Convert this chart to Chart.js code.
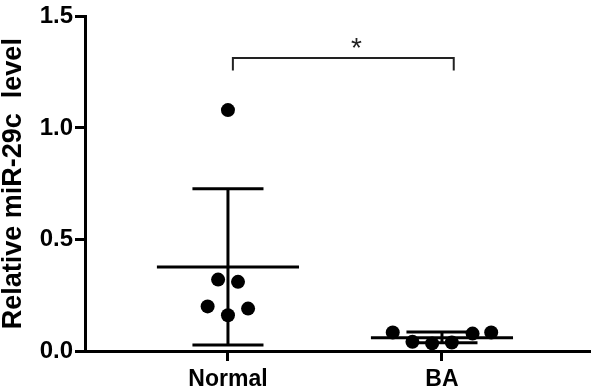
<!DOCTYPE html>
<html>
<head>
<meta charset="utf-8">
<script src="https://cdn.jsdelivr.net/npm/chart.js@4/dist/chart.umd.min.js"></script>
<style>
  html, body { margin: 0; padding: 0; background: #fff; }
  #chart { display: block; }
</style>
</head>
<body>
<canvas id="chart" width="596" height="389"></canvas>
<script>
// values
const categories = ['Normal', 'BA'];
const normalValues = [1.08, 0.32, 0.31, 0.20, 0.19, 0.16];
const normalJitter = [0, -0.046, 0.047, -0.095, 0.094, 0];
const baValues = [0.083, 0.041, 0.034, 0.038, 0.078, 0.083];
const baJitter = [-0.23, -0.138, -0.046, 0.046, 0.143, 0.23];
const meanValues = [0.377, 0.059];
const sdUpper = [0.727, 0.085];
const sdLower = [0.027, 0.037];
const yTicks = [0, 0.5, 1.0, 1.5];

// significance bracket (x in category units, y in data units)
const bracketX = [1.023, 2.055];
const bracketY = [1.258, 1.314];
const starPos = { x: 1.6, y: 1.37 };

const FONT = "'Liberation Sans', Arial, sans-serif";
const meanHalf = 0.332;
const capHalf = 0.166;

function pts(values, jitter, c) {
  return values.map((v, i) => ({ x: c + jitter[i], y: v }));
}

function seg(data, width, color) {
  return {
    type: 'scatter',
    data: data,
    showLine: true,
    borderColor: color || '#000',
    borderWidth: width || 3,
    pointRadius: 0,
    fill: false,
    clip: false
  };
}

const datasets = [
  { data: pts(normalValues, normalJitter, 1), backgroundColor: '#000', borderWidth: 0, pointRadius: 7, clip: false },
  { data: pts(baValues, baJitter, 2), backgroundColor: '#000', borderWidth: 0, pointRadius: 7, clip: false }
];

meanValues.forEach((m, i) => {
  const c = i + 1;
  datasets.push(seg([{ x: c - meanHalf, y: m }, { x: c + meanHalf, y: m }]));
  datasets.push(seg([{ x: c, y: sdLower[i] }, { x: c, y: sdUpper[i] }]));
  datasets.push(seg([{ x: c - capHalf, y: sdUpper[i] }, { x: c + capHalf, y: sdUpper[i] }]));
  datasets.push(seg([{ x: c - capHalf, y: sdLower[i] }, { x: c + capHalf, y: sdLower[i] }]));
});

datasets.push(seg([
  { x: bracketX[0], y: bracketY[0] },
  { x: bracketX[0], y: bracketY[1] },
  { x: bracketX[1], y: bracketY[1] },
  { x: bracketX[1], y: bracketY[0] }
], 2, '#222'));

const starPlugin = {
  id: 'star',
  afterDatasetsDraw(chart) {
    const ctx = chart.ctx;
    const x = chart.scales.x.getPixelForValue(starPos.x);
    const y = chart.scales.y.getPixelForValue(starPos.y);
    ctx.save();
    ctx.fillStyle = '#222';
    ctx.font = '28px ' + FONT;
    ctx.textAlign = 'center';
    ctx.textBaseline = 'middle';
    ctx.fillText('*', x, y + 4);
    ctx.restore();
  }
};

new Chart(document.getElementById('chart'), {
  type: 'scatter',
  data: { datasets: datasets },
  options: {
    responsive: false,
    animation: false,
    devicePixelRatio: 1,
    layout: { padding: { top: 12, left: 0, right: 0, bottom: 0 } },
    plugins: { legend: { display: false }, tooltip: { enabled: false } },
    scales: {
      x: {
        type: 'linear',
        min: 0.332,
        max: 2.687,
        afterBuildTicks: s => { s.ticks = categories.map((c, i) => ({ value: i + 1 })); },
        afterFit: s => { s.height = 38; },
        border: { display: true, width: 3, color: '#000' },
        grid: { drawOnChartArea: false, drawTicks: true, tickLength: 10, lineWidth: 3, color: '#000' },
        ticks: {
          autoSkip: false,
          maxRotation: 0,
          padding: 5,
          color: '#000',
          font: { family: FONT, size: 23, weight: 'bold' },
          callback: v => categories[v - 1]
        }
      },
      y: {
        min: 0,
        max: 1.5,
        afterBuildTicks: s => { s.ticks = yTicks.map(v => ({ value: v })); },
        afterFit: s => { s.width = 85; },
        border: { display: true, width: 3, color: '#000' },
        grid: { drawOnChartArea: false, drawTicks: true, tickLength: 10, lineWidth: 3, color: '#000' },
        ticks: {
          padding: 2,
          color: '#000',
          font: { family: FONT, size: 24, weight: 'bold' },
          callback: v => v.toFixed(1)
        },
        title: {
          display: true,
          text: 'Relative miR-29c  level',
          color: '#000',
          padding: 0,
          font: { family: FONT, size: 27, weight: 'bold', lineHeight: 1 }
        }
      }
    }
  },
  plugins: [starPlugin]
});
</script>
</body>
</html>
